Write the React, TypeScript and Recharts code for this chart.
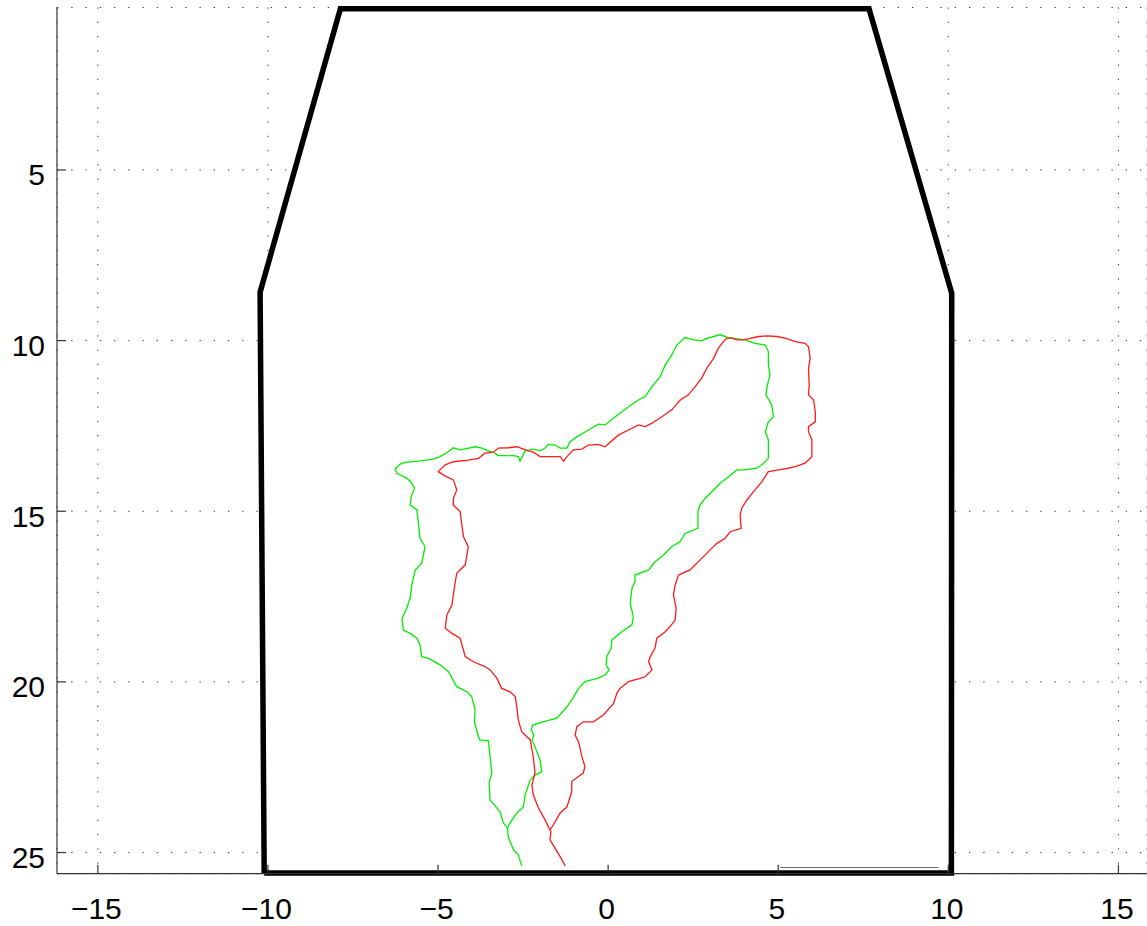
import React from 'react';
import { ComposedChart, Area, Line, XAxis, YAxis, CartesianGrid } from 'recharts';

// Tick values
const xTicks = [-15, -10, -5, 0, 5, 10, 15];
const yTicks = [5, 10, 15, 20, 25];

// Axis limits
const xDomain: [number, number] = [-16.2, 15.84];
const yDomain: [number, number] = [0.24, 25.62];

// Outline (closed polygon) as [x, y]
const outline: [number, number][] = [
  [-10.11, 25.6], [-10.23, 8.58], [-7.87, 0.28], [7.67, 0.28], [10.1, 8.61], [10.09, 25.6], [-10.11, 25.6],
];

// Thin segment near the bottom
const bottomSegment: [number, number][] = [[5.06, 25.44], [9.71, 25.44]];

// Green trace
const greenPath: [number, number][] = [
  [-2.54,25.39],[-2.64,25.07],[-2.78,24.92],[-2.93,24.57],[-2.96,24.28],[-3.08,24.13],[-3.18,23.80],[-3.47,23.46],[-3.50,22.96],[-3.42,22.67],
  [-3.45,22.38],[-3.52,21.73],[-3.78,21.70],[-3.84,21.50],[-3.93,21.17],[-3.91,20.82],[-4.01,20.43],[-4.15,20.29],[-4.45,20.14],[-4.59,19.89],
  [-4.69,19.70],[-4.94,19.50],[-5.28,19.31],[-5.48,19.26],[-5.53,18.92],[-5.62,18.72],[-5.82,18.58],[-6.02,18.48],[-6.06,18.14],[-5.92,17.84],
  [-5.82,17.55],[-5.77,17.16],[-5.67,16.72],[-5.48,16.52],[-5.38,16.04],[-5.53,15.79],[-5.58,15.31],[-5.62,14.96],[-5.82,14.82],[-5.79,14.57],
  [-5.69,14.33],[-5.77,14.18],[-5.92,14.03],[-6.21,13.89],[-6.26,13.76],[-6.11,13.62],[-5.97,13.57],[-5.58,13.53],[-5.14,13.47],[-4.94,13.40],
  [-4.69,13.25],[-4.55,13.14],[-4.35,13.20],[-4.06,13.14],[-3.91,13.11],[-3.71,13.15],[-3.52,13.23],[-3.32,13.30],[-3.23,13.37],[-2.78,13.37],
  [-2.64,13.40],[-2.59,13.53],[-2.44,13.23],[-2.20,13.18],[-2.00,13.23],[-1.85,13.15],[-1.76,13.04],[-1.56,13.06],[-1.41,13.15],[-1.21,13.15],
  [-1.12,12.96],[-0.92,12.82],[-0.58,12.62],[-0.29,12.45],[-0.09,12.47],[0.21,12.23],[0.60,11.94],[0.89,11.74],[1.09,11.64],[1.29,11.35],
  [1.53,11.06],[1.68,10.71],[1.87,10.42],[2.02,10.13],[2.26,9.91],[2.51,9.98],[2.75,10.01],[2.85,9.95],[3.29,9.83],[3.54,9.91],
  [4.03,9.98],[4.32,10.08],[4.62,10.13],[4.71,10.32],[4.71,10.71],[4.76,11.01],[4.67,11.35],[4.64,11.59],[4.81,11.89],[4.86,12.23],
  [4.71,12.38],[4.62,12.67],[4.71,12.91],[4.71,13.45],[4.52,13.64],[4.37,13.74],[4.03,13.79],[3.78,13.79],[3.54,13.99],[3.29,14.18],
  [3.05,14.43],[2.85,14.62],[2.70,14.82],[2.64,15.01],[2.64,15.50],[2.26,15.65],[2.12,15.89],[1.87,16.04],[1.63,16.28],[1.38,16.48],
  [1.19,16.72],[0.79,16.87],[0.79,17.06],[0.70,17.26],[0.65,17.70],[0.74,18.09],[0.70,18.33],[0.40,18.53],[0.11,18.77],[0.09,19.01],
  [-0.04,19.26],[-0.06,19.50],[0.03,19.65],[-0.09,19.80],[-0.29,19.89],[-0.68,19.99],[-0.87,20.19],[-1.03,20.47],[-1.21,20.73],[-1.51,21.06],
  [-1.91,21.17],[-2.21,21.26],[-2.26,21.41],[-2.18,21.56],[-2.24,21.70],[-2.15,21.90],[-2.00,22.29],[-1.95,22.63],[-2.15,22.73],[-2.29,22.87],
  [-2.34,23.02],[-2.44,23.31],[-2.49,23.66],[-2.68,23.84],[-2.83,24.05],[-2.96,24.28],
];

// Red trace
const redPath: [number, number][] = [
  [-1.26,25.39],[-1.41,25.12],[-1.56,24.87],[-1.71,24.63],[-1.68,24.39],[-1.71,24.34],[-1.85,24.05],[-2.05,23.69],[-2.20,23.31],[-2.24,23.02],
  [-2.15,22.67],[-2.20,22.19],[-2.29,21.70],[-2.54,21.46],[-2.64,21.12],[-2.68,20.76],[-2.73,20.43],[-2.88,20.29],[-3.13,20.19],[-3.27,19.89],
  [-3.47,19.65],[-3.62,19.55],[-3.96,19.41],[-4.20,19.26],[-4.35,18.72],[-4.59,18.58],[-4.79,18.43],[-4.74,18.04],[-4.59,17.75],[-4.55,17.45],
  [-4.50,17.11],[-4.45,16.82],[-4.20,16.57],[-4.11,16.04],[-4.25,15.75],[-4.30,15.40],[-4.35,15.01],[-4.55,14.82],[-4.55,14.62],[-4.45,14.38],
  [-4.55,14.08],[-4.84,13.94],[-4.99,13.84],[-4.79,13.64],[-4.55,13.55],[-4.11,13.50],[-3.81,13.45],[-3.62,13.30],[-3.37,13.27],[-3.23,13.15],
  [-2.93,13.14],[-2.68,13.11],[-2.49,13.18],[-2.34,13.23],[-2.20,13.27],[-2.00,13.40],[-1.76,13.40],[-1.41,13.40],[-1.31,13.53],[-1.21,13.40],
  [-1.02,13.20],[-0.77,13.18],[-0.58,13.06],[-0.29,13.04],[-0.09,13.11],[0.30,12.77],[0.60,12.62],[0.89,12.47],[1.09,12.52],[1.29,12.42],
  [1.58,12.23],[1.87,12.03],[2.12,11.74],[2.36,11.59],[2.56,11.35],[2.75,11.10],[2.90,10.81],[3.10,10.52],[3.24,10.22],[3.39,10.03],
  [3.49,9.93],[3.64,9.93],[3.78,9.98],[3.93,9.98],[4.12,9.95],[4.42,9.88],[4.67,9.86],[4.96,9.88],[5.20,9.93],[5.50,10.03],
  [5.79,10.08],[5.89,10.18],[5.94,10.52],[5.89,10.81],[5.91,11.30],[5.89,11.59],[6.04,11.74],[6.09,12.08],[6.09,12.38],[5.89,12.52],
  [5.89,12.67],[5.99,12.91],[5.99,13.40],[5.79,13.59],[5.50,13.69],[5.30,13.74],[5.01,13.79],[4.71,13.84],[4.52,14.13],[4.27,14.43],
  [4.08,14.67],[3.93,14.91],[3.88,15.11],[3.91,15.50],[3.59,15.60],[3.44,15.79],[3.20,15.94],[3.05,16.08],[2.75,16.38],[2.51,16.62],
  [2.41,16.72],[2.07,16.87],[1.97,17.16],[1.92,17.45],[2.00,17.84],[1.97,18.19],[1.82,18.38],[1.68,18.53],[1.43,18.72],[1.38,19.01],
  [1.24,19.26],[1.19,19.41],[1.29,19.65],[1.09,19.85],[0.89,19.91],[0.60,19.99],[0.35,20.19],[0.26,20.33],[0.16,20.63],[-0.14,20.97],
  [-0.43,21.17],[-0.73,21.17],[-0.92,21.31],[-0.97,21.56],[-0.87,21.75],[-0.77,22.19],[-0.68,22.48],[-0.73,22.67],[-1.07,22.92],[-1.07,23.22],
  [-1.21,23.66],[-1.41,23.84],[-1.61,24.19],[-1.71,24.34],
];

const toData = (pts: [number, number][]) => pts.map(([x, y]) => ({ x, y }));
const outlineData = toData(outline);
const bottomData = toData(bottomSegment);
const greenData = toData(greenPath);
const redData = toData(redPath);

const FONT = '"Liberation Sans", Arial, Helvetica, sans-serif';

const fmt = (v: number) => String(v).replace('-', '\u2212');

const XTick = (props: any) => {
  const { x, y, payload } = props;
  return (
    <g>
      <line x1={x} x2={x} y1={y} y2={y - 9} stroke="#333" strokeWidth={1.2} />
      <text x={x - 1.5} y={y + 45} textAnchor="middle" fontSize={30} fontFamily={FONT} fill="#000">
        {fmt(payload.value)}
      </text>
    </g>
  );
};

const YTick = (props: any) => {
  const { x, y, payload } = props;
  return (
    <g>
      <line x1={x} x2={x + 9} y1={y} y2={y} stroke="#333" strokeWidth={1.2} />
      <text x={x - 12} y={y + 15.5} textAnchor="end" fontSize={30} fontFamily={FONT} fill="#000">
        {fmt(payload.value)}
      </text>
    </g>
  );
};

export default function App() {
  return (
    <div style={{ position: 'absolute', left: 0, top: 0, width: 1147, height: 926, background: '#fff' }}>
      <ComposedChart width={1147} height={926} margin={{ top: 7.5, right: 0, bottom: 0, left: 0 }}>
        <CartesianGrid
          stroke="#333"
          horizontal={{ strokeDasharray: '1.3 12.95', strokeDashoffset: 0 } as any}
          vertical={{ strokeDasharray: '1.3 12.95', strokeDashoffset: 6 } as any}
          strokeDasharray="1.3 12.95"
        />
        <XAxis
          type="number"
          dataKey="x"
          domain={xDomain}
          ticks={xTicks}
          interval={0}
          height={52.3}
          tickSize={0}
          tickMargin={0}
          tickLine={false}
          axisLine={{ stroke: '#333', strokeWidth: 1.2 }}
          tick={(p: any) => <XTick {...p} />}
        />
        <YAxis
          type="number"
          dataKey="y"
          reversed
          domain={yDomain}
          ticks={yTicks}
          interval={0}
          width={57}
          tickSize={0}
          tickMargin={0}
          tickLine={false}
          axisLine={{ stroke: '#333', strokeWidth: 1.2 }}
          tick={(p: any) => <YTick {...p} />}
        />
        <Area
          data={outlineData}
          dataKey="y"
          type="linear"
          baseValue={25.6}
          stroke="#000"
          strokeWidth={5.5}
          fill="#fff"
          fillOpacity={1}
          dot={false}
          activeDot={false}
          isAnimationActive={false}
        />
        <Line
          data={bottomData}
          dataKey="y"
          type="linear"
          stroke="#666"
          strokeWidth={1}
          dot={false}
          activeDot={false}
          isAnimationActive={false}
        />
        <Line
          data={greenData}
          dataKey="y"
          type="linear"
          stroke="#00ee00"
          strokeWidth={1.3}
          dot={false}
          activeDot={false}
          isAnimationActive={false}
        />
        <Line
          data={redData}
          dataKey="y"
          type="linear"
          stroke="#ff1a1a"
          strokeWidth={1.3}
          dot={false}
          activeDot={false}
          isAnimationActive={false}
        />
      </ComposedChart>
    </div>
  );
}
